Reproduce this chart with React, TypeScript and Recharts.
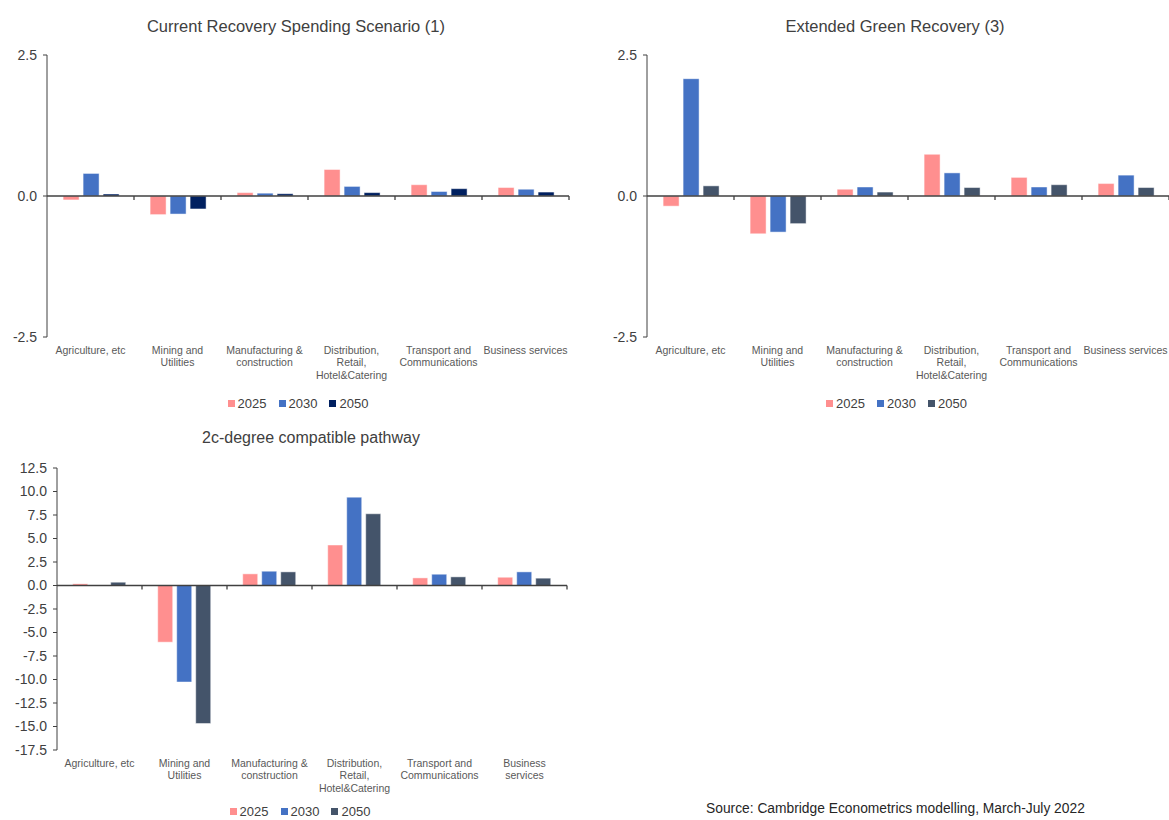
import { BarChart, Bar, XAxis, YAxis, ReferenceLine, Legend } from "recharts";

const sectors = [
  "Agriculture, etc",
  "Mining and Utilities",
  "Manufacturing & construction",
  "Distribution, Retail, Hotel&Catering",
  "Transport and Communications",
  "Business services",
];

// category labels as they wrap in the reference
const sectorLabels = [
  "Agriculture, etc",
  "Mining and\nUtilities",
  "Manufacturing &\nconstruction",
  "Distribution,\nRetail,\nHotel&Catering",
  "Transport and\nCommunications",
  "Business services",
];
const sectorLabels2c = [
  "Agriculture, etc",
  "Mining and\nUtilities",
  "Manufacturing &\nconstruction",
  "Distribution,\nRetail,\nHotel&Catering",
  "Transport and\nCommunications",
  "Business\nservices",
];

const years = ["2025", "2030", "2050"];

// Current Recovery Spending Scenario (1)
const current2025 = [-0.07, -0.33, 0.06, 0.47, 0.2, 0.15];
const current2030 = [0.4, -0.32, 0.05, 0.17, 0.08, 0.12];
const current2050 = [0.035, -0.23, 0.04, 0.06, 0.13, 0.07];

// Extended Green Recovery (3)
const green2025 = [-0.18, -0.67, 0.12, 0.74, 0.33, 0.22];
const green2030 = [2.08, -0.64, 0.16, 0.41, 0.16, 0.37];
const green2050 = [0.18, -0.49, 0.07, 0.15, 0.2, 0.15];

// 2c-degree compatible pathway
const deg2025 = [0.18, -6.03, 1.24, 4.31, 0.81, 0.88];
const deg2030 = [0.02, -10.27, 1.52, 9.4, 1.2, 1.45];
const deg2050 = [0.35, -14.68, 1.45, 7.63, 0.92, 0.78];

const ticksSmall = [-2.5, 0, 2.5];
const ticks2c = [12.5, 10, 7.5, 5, 2.5, 0, -2.5, -5, -7.5, -10, -12.5, -15, -17.5];

const FONT = '"Liberation Sans", Arial, sans-serif';
const PINK = "#FF8F8F";
const BLUE = "#4472C4";
const NAVY = "#002060";
const SLATE = "#44546A";

const buildRows = (a: number[], b: number[], c: number[]) =>
  sectors.map((s, i) => ({ sector: s, y2025: a[i], y2030: b[i], y2050: c[i] }));

const CategoryTick = ({ x, y, payload, labels }: any) => {
  const lines = labels[payload.index].split("\n");
  return (
    <text x={x} y={y} textAnchor="middle" fill="#595959" fontSize={10.5} fontFamily={FONT}>
      {lines.map((l: string, i: number) => (
        <tspan key={i} x={x} dy={i === 0 ? 9 : 12.4}>
          {l}
        </tspan>
      ))}
    </text>
  );
};

// zero line with the category boundary tick marks
const ZeroAxis = (props: any) => {
  const { x1, x2, y1 } = props;
  const step = (x2 - x1) / sectors.length;
  return (
    <g>
      <line x1={x1} x2={x2} y1={y1} y2={y1} stroke="#404040" strokeWidth={1.3} />
      {sectors.map((_, i) => (
        <line key={i} x1={x1 + (i + 1) * step} x2={x1 + (i + 1) * step} y1={y1} y2={y1 + 4} stroke="#404040" strokeWidth={1.3} />
      ))}
    </g>
  );
};

const LegendBox = ({ payload }: any) => (
  <div style={{ display: "flex", justifyContent: "center", height: 20, alignItems: "center", fontFamily: FONT }}>
    {(payload || []).map((p: any) => (
      <div key={p.value} style={{ display: "flex", alignItems: "center", marginRight: 12 }}>
        <span style={{ width: 7, height: 7, background: p.color, marginRight: 3, display: "inline-block" }} />
        <span style={{ fontSize: 13, color: "#404040" }}>{p.value}</span>
      </div>
    ))}
  </div>
);

interface PanelProps {
  rows: any[];
  labels: string[];
  colors: string[];
  domain: [number, number];
  ticks: number[];
  width: number;
  axisWidth: number;
  rightMargin: number;
  legendShift: number;
  legendTop?: number;
}

function Panel({ rows, labels, colors, domain, ticks, width, axisWidth, rightMargin, legendShift, legendTop }: PanelProps) {
  const legendStyle: React.CSSProperties = { left: legendShift, width: width };
  if (legendTop !== undefined) legendStyle.top = legendTop;
  return (
    <BarChart
      width={width}
      height={420}
      data={rows}
      margin={{ top: 55, right: rightMargin, bottom: 7, left: 0 }}
      barCategoryGap="18.5%"
      barGap={4}
    >
      <XAxis
        dataKey="sector"
        axisLine={false}
        tickLine={false}
        height={56}
        interval={0}
        tick={<CategoryTick labels={labels} />}
      />
      <YAxis
        width={axisWidth}
        domain={domain}
        ticks={ticks}
        interval={0}
        allowDataOverflow
        tickFormatter={(v: number) => v.toFixed(1)}
        stroke="#404040"
        tickSize={4}
        tickMargin={6}
        tick={{ fill: "#404040", fontSize: 14, fontFamily: FONT }}
      />
      <Legend content={<LegendBox />} wrapperStyle={legendStyle} />
      {years.map((yr, i) => (
        <Bar
          key={yr}
          dataKey={"y" + yr}
          name={yr}
          fill={colors[i]}
          stroke="#ffffff"
          strokeOpacity={0.6}
          strokeWidth={0.8}
          isAnimationActive={false}
        />
      ))}
      <ReferenceLine y={0} shape={ZeroAxis} />
    </BarChart>
  );
}

const titleStyle = (cx: number, top: number, size = 16): React.CSSProperties => ({
  position: "absolute",
  left: cx - 200,
  width: 400,
  top,
  textAlign: "center",
  fontSize: size,
  color: "#404040",
  fontFamily: FONT,
  lineHeight: "20px",
});

export default function App() {
  return (
    <div
      style={{
        position: "absolute",
        left: 0,
        top: 0,
        width: 1169,
        height: 820,
        overflow: "hidden",
        background: "#ffffff",
        fontFamily: FONT,
      }}
    >
      <div style={titleStyle(296, 16, 16.5)}>Current Recovery Spending Scenario (1)</div>
      <div style={titleStyle(895, 16, 16.5)}>Extended Green Recovery (3)</div>
      <div style={titleStyle(311, 428, 16)}>2c-degree compatible pathway</div>

      <div style={{ position: "absolute", left: 0, top: 0 }}>
        <Panel
          rows={buildRows(current2025, current2030, current2050)}
          labels={sectorLabels}
          colors={[PINK, BLUE, NAVY]}
          domain={[-2.5, 2.5]}
          ticks={ticksSmall}
          width={590}
          axisWidth={47}
          rightMargin={21}
          legendShift={9}
        />
      </div>

      <div style={{ position: "absolute", left: 600, top: 0 }}>
        <Panel
          rows={buildRows(green2025, green2030, green2050)}
          labels={sectorLabels}
          colors={[PINK, BLUE, SLATE]}
          domain={[-2.5, 2.5]}
          ticks={ticksSmall}
          width={569}
          axisWidth={47}
          rightMargin={0}
          legendShift={18}
        />
      </div>

      <div style={{ position: "absolute", left: 0, top: 413 }}>
        <Panel
          rows={buildRows(deg2025, deg2030, deg2050)}
          labels={sectorLabels2c}
          colors={[PINK, BLUE, SLATE]}
          domain={[-17.5, 12.5]}
          ticks={ticks2c}
          width={590}
          axisWidth={57}
          rightMargin={23}
          legendShift={11}
          legendTop={388}
        />
      </div>

      <div
        style={{
          position: "absolute",
          left: 706,
          top: 801,
          fontSize: 13.8,
          color: "#262626",
          fontFamily: FONT,
          whiteSpace: "nowrap",
        }}
      >
        Source: Cambridge Econometrics modelling, March-July 2022
      </div>
    </div>
  );
}
